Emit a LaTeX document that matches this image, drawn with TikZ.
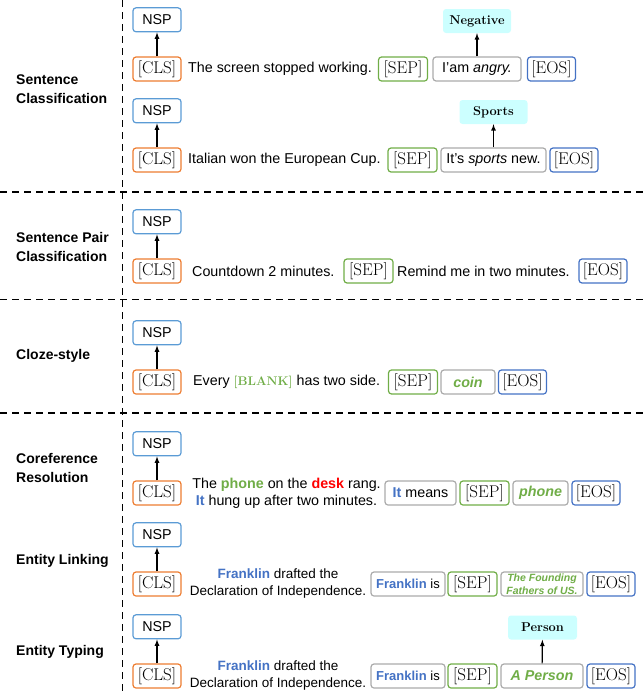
\documentclass[tikz,border=0pt]{standalone}
\usepackage{fontspec}
\setsansfont{Liberation Sans}
\usepackage{tikz}
\usetikzlibrary{positioning}
\usetikzlibrary{arrows}

\definecolor{nspblue}{HTML}{5B9BD5}
\definecolor{clsorange}{HTML}{ED7D31}
\definecolor{sepgreen}{HTML}{70AD47}
\definecolor{eosblue}{HTML}{4472C4}
\definecolor{seggray}{HTML}{ABABAB}
\definecolor{labcyan}{HTML}{CCFFFF}
\definecolor{wordblue}{HTML}{4472C4}
\definecolor{wordred}{HTML}{FF0000}

\newcommand{\txtfont}{\sffamily\fontsize{14.3}{17}\selectfont}
\newcommand{\smalltxtfont}{\sffamily\fontsize{13.5}{17}\selectfont}
\newcommand{\tokfont}{\rmfamily\fontsize{17}{18}\selectfont}
\newcommand{\green}[1]{{\color{sepgreen}\bfseries\itshape #1}}

\tikzset{
  tok/.style={rounded corners=3pt, line width=1.2pt, minimum height=24, inner xsep=2pt, inner ysep=0pt, font=\tokfont},
  nsp/.style={tok, draw=nspblue, minimum width=48, font=\txtfont},
  cls/.style={tok, draw=clsorange, minimum width=48},
  sep/.style={tok, draw=sepgreen, minimum width=49},
  eos/.style={tok, draw=eosblue, minimum width=48},
  seg/.style={tok, draw=seggray, font=\txtfont},
  answer/.style={rounded corners=3pt, fill=labcyan, minimum height=24, minimum width=68, inner sep=0pt, font=\rmfamily\bfseries\fontsize{12.8}{14}\selectfont},
  task/.style={anchor=west, align=left, inner sep=0pt, font=\sffamily\bfseries\fontsize{14}{18.5}\selectfont},
  sent/.style={inner sep=0pt, font=\txtfont},
  divider/.style={dash pattern=on 7pt off 5pt, line width=1.2pt},
  up/.style={-latex, line width=1.2pt},
}

\begin{document}
\begin{tikzpicture}[x=1pt, y=-1pt]

    \useasboundingbox (0, 0) rectangle (643, 696);

    \newcommand{\drawHead}[2]{
      % #1 = row name
      % #2 = y of the [CLS] token
      \node [cls] (cls#1) at (157, #2) {[CLS]};
      \node [nsp, above=24pt of cls#1] (nsp#1) {NSP};
      \draw [up] (cls#1) -- (nsp#1);
    }

    % dividers
    \coordinate (vtop) at (122.5, 0);
    \coordinate (vbot) at (122.5, 696);
    \draw [divider] (vtop) -- (vbot);
    \foreach \y in {192, 299.5, 413} {
        \draw [divider] (0, \y) -- (643, \y);
    }

    % tasks
    \node [task] (taskSC) at (16, 89) {Sentence\\Classification};
    \node [task] (taskSPC) at (16, 247) {Sentence Pair\\Classification};
    \node [task] (taskCS) at (16, 356) {Cloze-style};
    \node [task] (taskCR) at (16, 468) {Coreference\\Resolution};
    \node [task] (taskEL) at (16, 561) {Entity Linking};
    \node [task] (taskET) at (16, 652) {Entity Typing};

    % sentence classification
    \drawHead{A}{69}
    \node [sent, anchor=west] (sentA) at (188, 69) {The screen stopped working.};
    \node [sep] (sepA) at (403, 69) {[SEP]};
    \node [seg, minimum width=88] (segA) at (477, 69) {I’am \textit{angry.}};
    \node [eos] (eosA) at (551.5, 69) {[EOS]};
    \node [answer] (ansA) at (477, 21) {Negative};
    \draw [up] (segA) -- (ansA);

    \drawHead{B}{160}
    \node [sent, anchor=west] (sentB) at (188, 160) {Italian won the European Cup.};
    \node [sep] (sepB) at (412.5, 160) {[SEP]};
    \node [seg, minimum width=105] (segB) at (493.5, 160) {It’s \textit{sports} new.};
    \node [eos] (eosB) at (574, 160) {[EOS]};
    \node [answer] (ansB) at (493.5, 112) {Sports};
    \draw [up] (segB) -- (ansB);

    % sentence pair classification
    \drawHead{C}{271}
    \node [sent, anchor=west] (sentC) at (192, 271) {Countdown 2 minutes.};
    \node [sep] (sepC) at (368.5, 271) {[SEP]};
    \node [sent, anchor=west] (pairC) at (397, 271) {Remind me in two minutes.};
    \node [eos] (eosC) at (603, 271) {[EOS]};

    % cloze-style
    \drawHead{D}{382}
    \node [sent, anchor=west] (sentD) at (193, 382) {Every {\color{sepgreen}\rmfamily\bfseries\fontsize{12.5}{14}\selectfont [BLANK]} has two side.};
    \node [sep] (sepD) at (413, 382) {[SEP]};
    \node [seg, minimum width=54] (segD) at (468, 382) {\green{coin}};
    \node [eos] (eosD) at (522.5, 382) {[EOS]};

    % coreference resolution
    \drawHead{E}{493}
    \node [sent, align=center] (sentE) at (286.5, 493) {The {\color{sepgreen}\bfseries phone} on the {\color{wordred}\bfseries desk} rang.\\{\color{wordblue}\bfseries It} hung up after two minutes.};
    \node [seg, minimum width=71] (segE) at (420.5, 493) {{\color{wordblue}\bfseries It} means};
    \node [sep] (sepE) at (484.5, 493) {[SEP]};
    \node [seg, minimum width=55] (ansE) at (540.5, 493) {\green{phone}};
    \node [eos] (eosE) at (596, 493) {[EOS]};

    % entity linking
    \drawHead{F}{584}
    \node [sent, align=center, font=\smalltxtfont] (sentF) at (278, 584) {{\color{wordblue}\bfseries Franklin} drafted the\\Declaration of Independence.};
    \node [seg, minimum width=74, font=\sffamily\fontsize{13}{15}\selectfont] (segF) at (408, 584) {{\color{wordblue}\bfseries Franklin} is};
    \node [sep] (sepF) at (472.5, 584) {[SEP]};
    \node [seg, minimum width=82, align=center, font=\sffamily\fontsize{10.5}{12.5}\selectfont] (ansF) at (542, 584) {\green{The Founding}\\\green{Fathers of US.}};
    \node [eos] (eosF) at (611, 584) {[EOS]};

    % entity typing
    \drawHead{G}{676}
    \node [sent, align=center, font=\smalltxtfont] (sentG) at (278, 676) {{\color{wordblue}\bfseries Franklin} drafted the\\Declaration of Independence.};
    \node [seg, minimum width=74, font=\sffamily\fontsize{13}{15}\selectfont] (segG) at (408, 676) {{\color{wordblue}\bfseries Franklin} is};
    \node [sep] (sepG) at (472.5, 676) {[SEP]};
    \node [seg, minimum width=82] (ansG) at (542, 676) {\green{A Person}};
    \node [eos] (eosG) at (611, 676) {[EOS]};
    \node [answer, minimum width=69] (typeG) at (542.5, 627.5) {Person};
    \draw [up] (ansG) -- (typeG);

\end{tikzpicture}
\end{document}
